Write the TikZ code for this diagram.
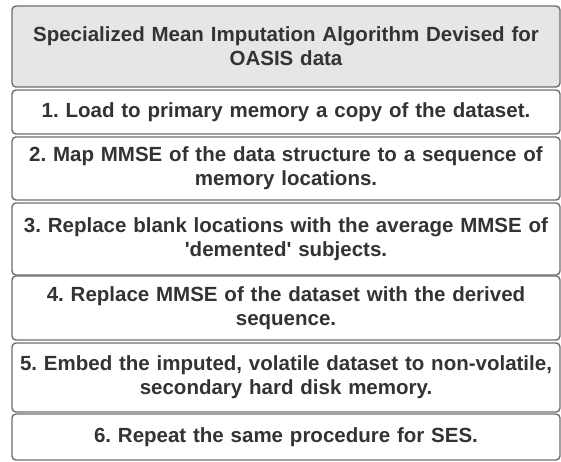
\documentclass[tikz,border=0pt]{standalone}
\usepackage{fontspec}
\setmainfont{Liberation Sans}
\frenchspacing
\definecolor{edge}{HTML}{6E6E6E}
\definecolor{ink}{HTML}{333333}
\definecolor{headfill}{HTML}{E6E6E6}
\begin{document}
\begin{tikzpicture}[x=1pt,y=1pt,
  stepbox/.style={draw=edge, line width=1.4pt, rounded corners=4pt, fill=white,
    minimum width=548pt, text width=546pt, align=center, inner sep=0pt,
    text=ink, font=\fontsize{20.5}{24}\selectfont\bfseries},
  headbox/.style={stepbox, fill=headfill}]
\useasboundingbox (0,0) rectangle (561,-462);
\node[headbox, minimum height=81pt] (head) at (286,-46.5)
  {Specialized Mean Imputation Algorithm Devised for\\OASIS data};
\node[stepbox, minimum height=44pt] (s1) at (286,-112)
  {1. Load to primary memory a copy of the dataset.};
\node[stepbox, minimum height=63pt] (s2) at (286,-168.5)
  {2. Map MMSE of the data structure to a sequence of\\memory locations.};
\node[stepbox, minimum height=72pt] (s3) at (286,-239)
  {3. Replace blank locations with the average MMSE of\\\textquotesingle demented\textquotesingle\ subjects.};
\node[stepbox, minimum height=64pt] (s4) at (286,-308)
  {4. Replace MMSE of the dataset with the derived\\sequence.};
\node[stepbox, minimum height=69pt] (s5) at (286,-377.5)
  {5. Embed the imputed, volatile dataset to non-volatile,\\secondary hard disk memory.};
\node[stepbox, minimum height=46pt] (s6) at (286,-437)
  {6. Repeat the same procedure for SES.};
\end{tikzpicture}
\end{document}
